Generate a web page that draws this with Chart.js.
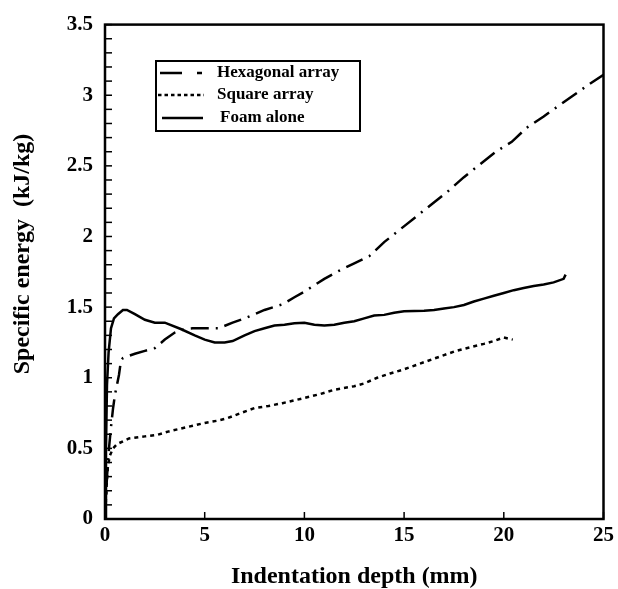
<!DOCTYPE html>
<html>
<head>
<meta charset="utf-8">
<script src="https://cdn.jsdelivr.net/npm/chart.js@4/dist/chart.umd.min.js"></script>
<style>
  html, body { margin: 0; padding: 0; background: #fff; }
</style>
</head>
<body>
<canvas id="grafico" width="618" height="589"></canvas>
<script>
// valores (profundidade em mm, energia em kJ/kg)
const seriesNames = ['Hexagonal array', 'Square array', 'Foam alone'];

const hexX = [0, 0.05, 0.1, 0.2, 0.3, 0.4, 0.5, 0.6, 0.7, 0.8, 0.9, 1.5, 2, 2.5, 3, 3.5, 4, 4.4, 5.7, 6.4, 7, 7.5, 8, 8.9, 9.5, 10, 11, 11.7, 12.5, 13.25, 14, 14.8, 15.6, 16.4, 17.2, 18, 18.8, 19.6, 20.4, 21.15, 22, 22.7, 23.5, 24.3, 25];
const hexY = [0, 0.15, 0.3, 0.5, 0.65, 0.78, 0.88, 0.95, 1.02, 1.12, 1.14, 1.17, 1.19, 1.21, 1.27, 1.32, 1.345, 1.35, 1.35, 1.39, 1.42, 1.45, 1.48, 1.52, 1.57, 1.61, 1.7, 1.755, 1.81, 1.86, 1.96, 2.05, 2.14, 2.23, 2.32, 2.42, 2.51, 2.6, 2.67, 2.77, 2.85, 2.92, 3.0, 3.08, 3.145];

const squareX = [0, 0.05, 0.1, 0.15, 0.25, 0.4, 0.6, 1.2, 2, 2.6, 3.2, 3.8, 4.4, 5, 5.6, 6.15, 6.8, 7.5, 8.2, 8.9, 9.5, 10, 10.8, 11.5, 12.5, 13, 13.65, 14.3, 15, 15.7, 16.4, 17, 17.6, 18.3, 19, 19.5, 20, 20.45];
const squareY = [0, 0.15, 0.28, 0.38, 0.45, 0.5, 0.53, 0.57, 0.585, 0.595, 0.62, 0.64, 0.66, 0.68, 0.695, 0.714, 0.75, 0.785, 0.8, 0.82, 0.84, 0.857, 0.885, 0.915, 0.94, 0.96, 1.0, 1.03, 1.06, 1.095, 1.13, 1.16, 1.19, 1.215, 1.24, 1.26, 1.285, 1.27];

const foamX = [0, 0.05, 0.1, 0.18, 0.3, 0.45, 0.65, 0.9, 1.1, 1.5, 2, 2.5, 3, 3.8, 4.5, 5, 5.5, 6, 6.4, 7, 7.5, 8, 8.5, 9, 9.5, 10, 10.5, 11, 11.5, 12, 12.5, 13, 13.5, 14, 14.5, 15, 16, 16.5, 17, 17.5, 18, 18.5, 19, 19.5, 20, 20.5, 21, 21.5, 22, 22.5, 23, 23.1];
const foamY = [0, 0.5, 0.95, 1.18, 1.35, 1.42, 1.45, 1.48, 1.48, 1.45, 1.41, 1.39, 1.39, 1.345, 1.3, 1.27, 1.25, 1.25, 1.26, 1.3, 1.33, 1.35, 1.37, 1.375, 1.385, 1.39, 1.375, 1.37, 1.375, 1.39, 1.4, 1.42, 1.44, 1.445, 1.46, 1.47, 1.475, 1.48, 1.49, 1.5, 1.515, 1.54, 1.56, 1.58, 1.6, 1.62, 1.635, 1.65, 1.66, 1.675, 1.7, 1.73];

const xTicks = [0, 5, 10, 15, 20, 25];
const yTicks = [0, 0.5, 1, 1.5, 2, 2.5, 3, 3.5];

const serif = '"Liberation Serif", "DejaVu Serif", serif';

function pontos(xs, ys) {
  return xs.map((x, i) => ({ x: x, y: ys[i] }));
}

const estilos = [
  { borderDash: [18, 7, 2, 7] },
  { borderDash: [4, 4] },
  { borderDash: [] }
];

// moldura, marcas internas, titulo do eixo y e legenda
const molduraPlugin = {
  id: 'moldura',
  afterDatasetsDraw(chart) {
    const ctx = chart.ctx;
    const area = chart.chartArea;
    const sx = chart.scales.x;
    const sy = chart.scales.y;
    ctx.save();
    ctx.strokeStyle = '#000';
    ctx.setLineDash([]);

    // marcas para dentro
    ctx.lineWidth = 1.5;
    sy.ticks.forEach(t => {
      const py = sy.getPixelForValue(t.value);
      ctx.beginPath();
      ctx.moveTo(area.left, py);
      ctx.lineTo(area.left + 7, py);
      ctx.stroke();
    });
    xTicks.forEach(v => {
      const px = sx.getPixelForValue(v);
      ctx.beginPath();
      ctx.moveTo(px, area.bottom);
      ctx.lineTo(px, area.bottom - 7);
      ctx.stroke();
    });

    ctx.lineWidth = 2.5;
    ctx.strokeRect(area.left, area.top, area.right - area.left, area.bottom - area.top);

    // titulo do eixo y
    ctx.fillStyle = '#000';
    ctx.font = 'bold 24px ' + serif;
    ctx.textAlign = 'center';
    ctx.textBaseline = 'middle';
    ctx.translate(23, 254);
    ctx.rotate(-Math.PI / 2);
    ctx.fillText('Specific energy  (kJ/kg)', 0, 0);
    ctx.restore();

    // legenda
    ctx.save();
    ctx.strokeStyle = '#000';
    ctx.fillStyle = '#fff';
    ctx.lineWidth = 2;
    ctx.fillRect(156, 61, 204, 70);
    ctx.strokeRect(156, 61, 204, 70);
    const linhas = [
      { y: 73, x0: 160, x1: 203, dash: [22, 15, 5, 99], tx: 217 },
      { y: 95, x0: 158, x1: 204, dash: [3.5, 3], tx: 217 },
      { y: 118, x0: 162, x1: 203, dash: [], tx: 220 }
    ];
    ctx.font = 'bold 17px ' + serif;
    ctx.textAlign = 'left';
    ctx.textBaseline = 'middle';
    linhas.forEach((l, i) => {
      ctx.lineWidth = 2.5;
      ctx.setLineDash(l.dash);
      ctx.beginPath();
      ctx.moveTo(l.x0, l.y);
      ctx.lineTo(l.x1, l.y);
      ctx.stroke();
      ctx.fillStyle = '#000';
      ctx.fillText(seriesNames[i], l.tx, l.y);
    });
    ctx.restore();
  }
};

const ctx = document.getElementById('grafico').getContext('2d');

new Chart(ctx, {
  type: 'scatter',
  data: {
    datasets: [
      { label: seriesNames[0], data: pontos(hexX, hexY), borderDash: estilos[0].borderDash },
      { label: seriesNames[1], data: pontos(squareX, squareY), borderDash: estilos[1].borderDash },
      { label: seriesNames[2], data: pontos(foamX, foamY), borderDash: estilos[2].borderDash }
    ].map(d => Object.assign(d, {
      showLine: true,
      pointRadius: 0,
      borderColor: '#000',
      backgroundColor: '#000',
      borderWidth: 2.5,
      tension: 0,
      fill: false
    }))
  },
  options: {
    responsive: false,
    animation: false,
    devicePixelRatio: 1,
    layout: { padding: { top: 23, right: 14, left: 0, bottom: 0 } },
    plugins: {
      legend: { display: false },
      tooltip: { enabled: false }
    },
    scales: {
      x: {
        type: 'linear',
        min: 0,
        max: 25,
        afterBuildTicks: s => { s.ticks = xTicks.map(v => ({ value: v })); },
        ticks: {
          color: '#000',
          padding: 4,
          maxRotation: 0,
          font: { family: serif, size: 21, weight: 'bold' }
        },
        grid: { display: false, drawTicks: false },
        border: { display: false },
        title: {
          display: true,
          text: 'Indentation depth (mm)',
          color: '#000',
          padding: 0,
          font: { family: serif, size: 24, weight: 'bold', lineHeight: 1 }
        },
        afterFit: s => { s.height = 70; }
      },
      y: {
        type: 'linear',
        min: 0,
        max: 3.5,
        ticks: {
          stepSize: 0.1,
          autoSkip: false,
          color: '#000',
          padding: 12,
          font: { family: serif, size: 21, weight: 'bold' },
          callback: v => {
            const d = Math.round(v * 10);
            return d % 5 === 0 && yTicks.includes(d / 10) ? String(d / 10) : '';
          }
        },
        grid: { display: false, drawTicks: false },
        border: { display: false },
        afterFit: s => { s.width = 105; }
      }
    }
  },
  plugins: [molduraPlugin]
});
</script>
</body>
</html>
